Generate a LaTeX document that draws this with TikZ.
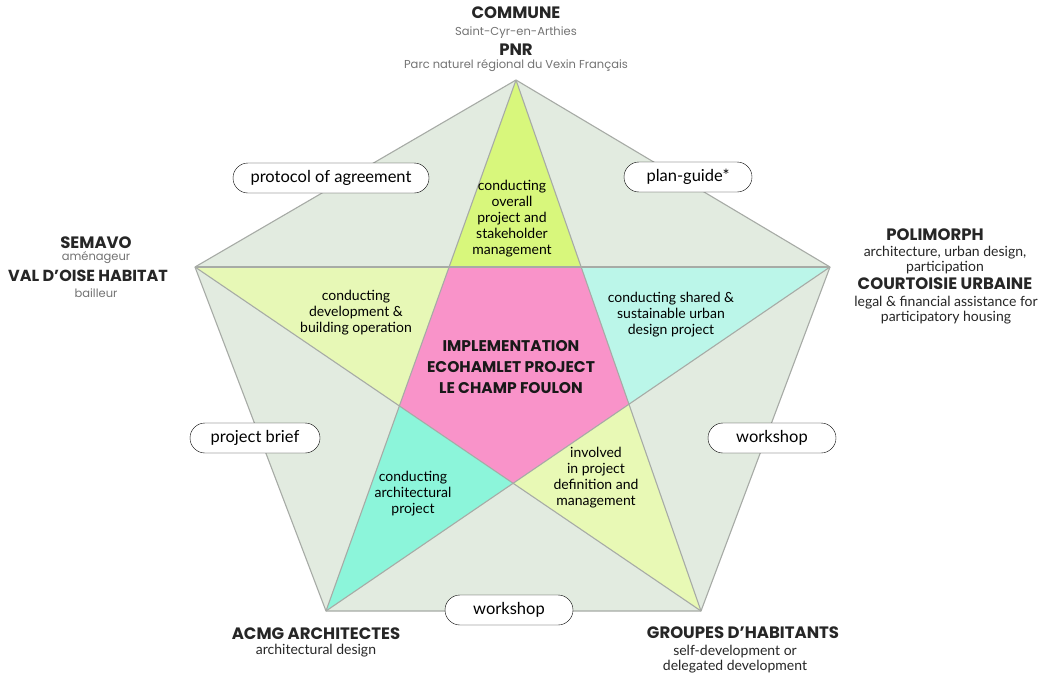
\documentclass[tikz,border=0pt]{standalone}
\usepackage{fontspec}
\setmainfont{Lato}
\newfontfamily\headfont{Poppins}
\usetikzlibrary{positioning}
\usetikzlibrary{shapes.misc}
\definecolor{outerfill}{HTML}{E2EBE0}
\definecolor{linegray}{HTML}{A7ABA6}
\definecolor{topfill}{HTML}{D8F77C}
\definecolor{leftfill}{HTML}{E7F8B6}
\definecolor{rightfill}{HTML}{BBF6E9}
\definecolor{blfill}{HTML}{8CF5DA}
\definecolor{brfill}{HTML}{E8F9B5}
\definecolor{centerfill}{HTML}{F993C9}

\begin{document}
\begin{tikzpicture}[x=1pt,y=-1pt,
  pill/.style={rounded rectangle,draw=black,fill=white,thin,minimum height=30pt,inner xsep=12pt,font=\fontsize{16.5}{18}\selectfont},
  head/.style={font=\headfont\bfseries\fontsize{16.5}{18}\selectfont,text=black!85,inner sep=0.5pt},
  sub/.style={font=\headfont\fontsize{11.5}{13}\selectfont,text=black!55,inner sep=0.5pt},
  role/.style={font=\fontsize{14}{15.5}\selectfont,text=black!85,align=center,inner sep=0.5pt},
  inside/.style={font=\fontsize{14}{16}\selectfont,align=center}]
\useasboundingbox[fill=white] (0,0) rectangle (1058,680);

\coordinate (T) at (516,80);
\coordinate (L) at (195,267);
\coordinate (R) at (830,267);
\coordinate (BL) at (326,611);
\coordinate (BR) at (701,611);
\coordinate (IL) at (intersection of L--R and T--BL);
\coordinate (IR) at (intersection of L--R and T--BR);
\coordinate (ILL) at (intersection of L--BR and T--BL);
\coordinate (ILR) at (intersection of R--BL and T--BR);
\coordinate (IB) at (intersection of L--BR and R--BL);

\fill[outerfill] (T) -- (R) -- (BR) -- (BL) -- (L) -- cycle;
\fill[topfill] (T) -- (IR) -- (IL) -- cycle;
\fill[leftfill] (L) -- (IL) -- (ILL) -- cycle;
\fill[rightfill] (R) -- (ILR) -- (IR) -- cycle;
\fill[blfill] (BL) -- (ILL) -- (IB) -- cycle;
\fill[brfill] (BR) -- (IB) -- (ILR) -- cycle;
\fill[centerfill] (IL) -- (IR) -- (ILR) -- (IB) -- (ILL) -- cycle;

\draw[linegray,line width=1.1pt,line join=round] (T) -- (R) -- (BR) -- (BL) -- (L) -- cycle;
\draw[linegray,line width=1.1pt] (T) -- (BL);
\draw[linegray,line width=1.1pt] (T) -- (BR);
\draw[linegray,line width=1.1pt] (L) -- (R);
\draw[linegray,line width=1.1pt] (L) -- (BR);
\draw[linegray,line width=1.1pt] (R) -- (BL);

\node[pill,minimum width=220pt] (protocol) at (331,178) {protocol of agreement};
\node[pill,minimum width=152pt] (planguide) at (688,177) {plan-guide*};
\node[pill,minimum width=154pt] (brief) at (255,438) {project brief};
\node[pill,minimum width=152pt] (workshopR) at (772,438) {workshop};
\node[pill,minimum width=152pt] (workshopB) at (509,610) {workshop};

\node[inside] (topspike) at (512,219) {conducting\\overall\\project and\\stakeholder\\management};
\node[inside] (leftspike) at (356,313) {conducting\\development \&\\building operation};
\node[inside] (rightspike) at (671,315) {conducting shared \&\\sustainable urban\\design project};
\node[inside] (blspike) at (413,494) {conducting\\architectural\\project};
\node[inside] (brspike) at (596,478) {involved\\in project\\definition and\\management};
\node[font=\headfont\bfseries\fontsize{15.5}{21}\selectfont,align=center,text=black!90] (core) at (511,367) {IMPLEMENTATION\\ECOHAMLET PROJECT\\LE CHAMP FOULON};

\node[head] (commune) at (516,13) {COMMUNE};
\node[sub] (saintcyr) at (516,33) {Saint-Cyr-en-Arthies};
\node[head] (pnr) at (516,50) {PNR};
\node[sub] (parc) at (516,66) {Parc naturel régional du Vexin Français};

\node[head] (semavo) at (96,243) {SEMAVO};
\node[sub] (amenageur) at (96,258) {aménageur};
\node[head,font=\headfont\bfseries\fontsize{16}{17}\selectfont] (valdoise) at (88,276) {VAL D’OISE HABITAT};
\node[sub] (bailleur) at (96,293) {bailleur};

\node[head] (polimorph) at (935,235) {POLIMORPH};
\node[role] (polirole) at (945,260) {architecture, urban design,\\participation};
\node[head] (courtoisie) at (945,284) {COURTOISIE URBAINE};
\node[role] (courtrole) at (946,310) {legal \& financial assistance for\\participatory housing};

\node[head] (acmg) at (316,634) {ACMG ARCHITECTES};
\node[role] (acmgrole) at (316,651) {architectural design};

\node[head] (groupes) at (743,633) {GROUPES D’HABITANTS};
\node[role] (grouperole) at (735,659) {self-development or\\delegated development};
\end{tikzpicture}
\end{document}
